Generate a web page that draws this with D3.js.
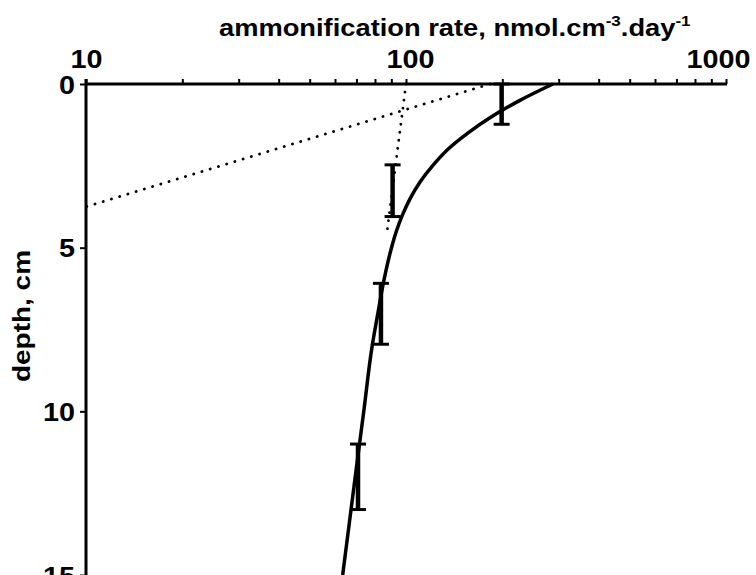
<!DOCTYPE html>
<html>
<head>
<meta charset="utf-8">
<script src="https://cdn.jsdelivr.net/npm/d3@7"></script>
<style>
  html, body { margin: 0; padding: 0; background: #fff; }
  svg { display: block; }
  text { font-family: "Liberation Sans", Arial, sans-serif; font-weight: bold; fill: #000; }
</style>
</head>
<body>
<svg id="chart" width="756" height="575"></svg>
<script>
// ---- data ----
const xMajorTicks = [10, 100, 1000];
const xMinorTicks = [20, 30, 40, 50, 60, 70, 80, 90, 200, 300, 400, 500, 600, 700, 800, 900];
const yTicks = [0, 5, 10, 15];

// fitted solid curve (rate, depth)
const curveRate  = [288, 227, 185, 156, 135, 121, 110.5, 103, 97.5, 93.3, 90.1, 85.3, 81.7, 78.4, 73.8, 69.4, 63.4];
const curveDepth = [0, 0.5, 1, 1.5, 2, 2.5, 3, 3.5, 4, 4.5, 5, 6, 7, 8, 10, 12, 15];

// dotted component lines
const dotSurfaceRate  = [183, 10];
const dotSurfaceDepth = [0, 3.75];
const dotDeepRate  = [100, 87];
const dotDeepDepth = [0, 4.6];

// measured ranges (error bars)
const barRate  = [199, 90.8, 83.5, 70.8];
const barTop   = [0, 2.47, 6.09, 11.0];
const barBottom = [1.23, 4.05, 7.95, 13.0];

// ---- layout ----
const svg = d3.select("#chart");
const x = d3.scaleLog().domain([10, 1000]).range([86, 726]);
const y = d3.scaleLinear().domain([0, 15]).range([84, 575]);
const FONT = "Liberation Sans, Arial, sans-serif";

function stretch(sel, factor) {
  sel.each(function () {
    const w = this.getComputedTextLength();
    d3.select(this).attr("textLength", w * factor).attr("lengthAdjust", "spacingAndGlyphs");
  });
}

// top axis
const xAxis = d3.axisTop(x)
  .tickValues(xMajorTicks.concat(xMinorTicks))
  .tickFormat(d => xMajorTicks.includes(d) ? String(d) : "")
  .tickSize(5)
  .tickSizeOuter(0)
  .tickPadding(11);
const gx = svg.append("g").attr("transform", "translate(0,84)").call(xAxis);
gx.select(".domain").attr("stroke", "#000").attr("stroke-width", 3).attr("d", "M86,0H727");
gx.selectAll(".tick line").attr("stroke", "#000").attr("stroke-width", 2);
const xLabels = gx.selectAll(".tick text").filter(d => xMajorTicks.includes(d))
  .attr("font-size", 25).attr("fill", "#000")
  .attr("font-family", FONT).attr("font-weight", "bold")
  .attr("dx", d => d === 1000 ? -8 : (d === 100 ? 4 : 0));
stretch(xLabels, 1.15);

// left axis
const yAxis = d3.axisLeft(y)
  .tickValues(yTicks)
  .tickFormat(d3.format("d"))
  .tickSize(6)
  .tickSizeOuter(0)
  .tickPadding(5);
const gy = svg.append("g").attr("transform", "translate(86,0)").call(yAxis);
gy.select(".domain").attr("stroke", "#000").attr("stroke-width", 3).attr("d", "M0,79V575");
gy.selectAll(".tick line").attr("stroke", "#000").attr("stroke-width", 2);
const yLabels = gy.selectAll(".tick text").attr("font-size", 25).attr("fill", "#000")
  .attr("font-family", FONT).attr("font-weight", "bold")
  .attr("dy", "0.36em");
stretch(yLabels, 1.15);

// axis titles
const title = svg.append("text")
  .attr("x", 219).attr("y", 36)
  .attr("font-size", 24);
title.append("tspan").text("ammonification rate, nmol.cm");
title.append("tspan").attr("dy", -10).attr("font-size", 15).text("-3");
title.append("tspan").attr("dy", 10).attr("dx", 0).text(".day");
title.append("tspan").attr("dy", -10).attr("font-size", 15).text("-1");
{
  const bb = title.node().getBBox();
  const sx = 472 / bb.width;
  title.attr("transform", `translate(219,0) scale(${sx},1) translate(-219,0)`);
}

svg.append("text")
  .attr("transform", "translate(30,316) rotate(-90)")
  .attr("text-anchor", "middle")
  .attr("font-size", 24)
  .attr("textLength", 132).attr("lengthAdjust", "spacingAndGlyphs")
  .text("depth, cm");

// dotted lines
const line = d3.line().x(d => x(d[0])).y(d => y(d[1]));
svg.append("path")
  .datum(dotSurfaceRate.map((r, i) => [r, dotSurfaceDepth[i]]))
  .attr("d", line)
  .attr("fill", "none").attr("stroke", "#000").attr("stroke-width", 2.8)
  .attr("stroke-linecap", "round").attr("stroke-dasharray", "0.1,8.5");
svg.append("path")
  .datum(dotDeepRate.map((r, i) => [r, dotDeepDepth[i]]))
  .attr("d", line)
  .attr("fill", "none").attr("stroke", "#000").attr("stroke-width", 2.8)
  .attr("stroke-linecap", "round").attr("stroke-dasharray", "0.1,8");

// solid fitted curve
const curveLine = d3.line().x(d => x(d[0])).y(d => y(d[1])).curve(d3.curveMonotoneY);
svg.append("path")
  .datum(curveRate.map((r, i) => [r, curveDepth[i]]))
  .attr("d", curveLine)
  .attr("fill", "none").attr("stroke", "#000").attr("stroke-width", 3.5);

// error bars
const bars = svg.append("g");
barRate.forEach((r, i) => {
  const cx = x(r);
  bars.append("line").attr("x1", cx).attr("x2", cx)
    .attr("y1", y(barTop[i])).attr("y2", y(barBottom[i]))
    .attr("stroke", "#000").attr("stroke-width", 4.5);
  [barTop[i], barBottom[i]].forEach(dv => {
    bars.append("line").attr("x1", cx - 8).attr("x2", cx + 8)
      .attr("y1", y(dv)).attr("y2", y(dv))
      .attr("stroke", "#000").attr("stroke-width", 3);
  });
});
</script>
</body>
</html>
